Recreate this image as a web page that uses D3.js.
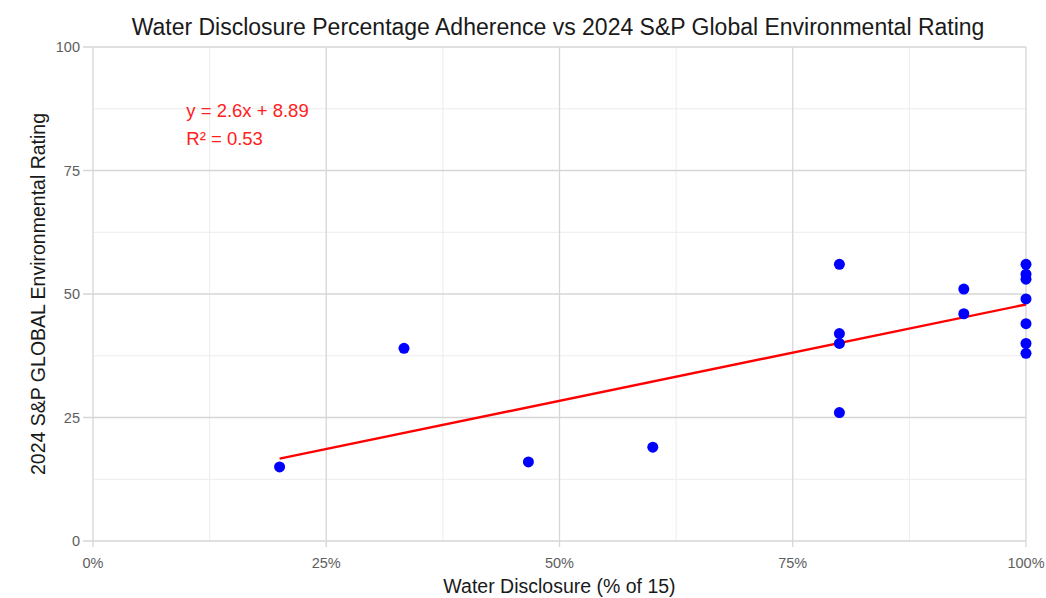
<!DOCTYPE html>
<html>
<head>
<meta charset="utf-8">
<script src="https://cdn.jsdelivr.net/npm/d3@7"></script>
<style>
  body { margin: 0; background: #ffffff; }
  text { font-family: "Liberation Sans", Arial, sans-serif; }
</style>
</head>
<body>
<svg id="chart" width="1046" height="598"></svg>
<script>
// ---- data ----
const disclosureCount = [3, 5, 7, 9, 12, 12, 12, 12, 14, 14, 15, 15, 15, 15, 15, 15, 15]; // out of 15
const envRating       = [15, 39, 16, 19, 56, 42, 40, 26, 51, 46, 56, 54, 53, 49, 44, 40, 38];
const totalItems = 15;
const xTickValues = [0, 0.25, 0.5, 0.75, 1];
const yTickValues = [0, 25, 50, 75, 100];
const titleText = "Water Disclosure Percentage Adherence vs 2024 S&P Global Environmental Rating";
const xTitle = "Water Disclosure (% of 15)";
const yTitle = "2024 S&P GLOBAL Environmental Rating";
const eqLines = ["y = 2.6x + 8.89", "R\u00B2 = 0.53"];

const svg = d3.select("#chart");
const W = 1046, H = 598;
const m = { left: 93, right: 20, top: 47, bottom: 57 };
const pw = W - m.left - m.right, ph = H - m.top - m.bottom;

const x = d3.scaleLinear().domain([0, 1]).range([m.left, m.left + pw]);
const y = d3.scaleLinear().domain([0, 100]).range([m.top + ph, m.top]);

const pts = disclosureCount.map((c, i) => ({ x: c / totalItems, c: c, y: envRating[i] }));

// grid
const g = svg.append("g");
const xMinor = [0.125, 0.375, 0.625, 0.875];
const yMinor = [12.5, 37.5, 62.5, 87.5];
g.selectAll(".xminor").data(xMinor).enter().append("line")
  .attr("x1", d => x(d)).attr("x2", d => x(d)).attr("y1", y(0)).attr("y2", y(100))
  .attr("stroke", "#ececec").attr("stroke-width", 1);
g.selectAll(".yminor").data(yMinor).enter().append("line")
  .attr("y1", d => y(d)).attr("y2", d => y(d)).attr("x1", x(0)).attr("x2", x(1))
  .attr("stroke", "#ececec").attr("stroke-width", 1);
g.selectAll(".xmajor").data(xTickValues).enter().append("line")
  .attr("x1", d => x(d)).attr("x2", d => x(d)).attr("y1", y(0) + 6).attr("y2", y(100))
  .attr("stroke", "#d6d6d6").attr("stroke-width", 1.3);
g.selectAll(".ymajor").data(yTickValues).enter().append("line")
  .attr("y1", d => y(d)).attr("y2", d => y(d)).attr("x1", x(0) - 10).attr("x2", x(1))
  .attr("stroke", "#d6d6d6").attr("stroke-width", 1.3);

// axis labels
g.selectAll(".xlab").data(xTickValues).enter().append("text")
  .attr("x", d => x(d)).attr("y", y(0) + 27)
  .attr("text-anchor", "middle").attr("fill", "#5e5e5e").attr("font-size", 14.5)
  .text(d => d3.format(".0%")(d));
g.selectAll(".ylab").data(yTickValues).enter().append("text")
  .attr("x", x(0) - 13).attr("y", d => y(d) + 5)
  .attr("text-anchor", "end").attr("fill", "#5e5e5e").attr("font-size", 14.5)
  .text(d => d);

// regression (least squares on the count scale)
const mx = d3.mean(pts, d => d.c), my = d3.mean(pts, d => d.y);
const sxy = d3.sum(pts, d => (d.c - mx) * (d.y - my));
const sxx = d3.sum(pts, d => (d.c - mx) ** 2);
const slope = sxy / sxx, intercept = my - slope * mx;
const cMin = d3.min(disclosureCount), cMax = d3.max(disclosureCount);
svg.append("line")
  .attr("x1", x(cMin / totalItems)).attr("y1", y(intercept + slope * cMin))
  .attr("x2", x(cMax / totalItems)).attr("y2", y(intercept + slope * cMax))
  .attr("stroke", "#ff0000").attr("stroke-width", 2.4);

// points
svg.selectAll(".pt").data(pts).enter().append("circle")
  .attr("cx", d => x(d.x)).attr("cy", d => y(d.y)).attr("r", 5.5)
  .attr("fill", "#0000ff");

// equation
svg.selectAll(".eq").data(eqLines).enter().append("text")
  .attr("x", x(0.1)).attr("y", (d, i) => 117 + i * 27.5)
  .attr("fill", "#ff2020").attr("font-size", 18.5)
  .text(d => d);

// titles
svg.append("text").attr("x", 558).attr("y", 34.5).attr("text-anchor", "middle")
  .attr("font-size", 23).attr("fill", "#1a1a1a").text(titleText);
svg.append("text").attr("x", (x(0) + x(1)) / 2).attr("y", 593).attr("text-anchor", "middle")
  .attr("font-size", 19.5).attr("fill", "#1a1a1a").text(xTitle);
svg.append("text").attr("transform", `translate(45,${(y(0) + y(100)) / 2}) rotate(-90)`)
  .attr("text-anchor", "middle").attr("font-size", 19.5).attr("fill", "#1a1a1a").text(yTitle);
</script>
</body>
</html>
